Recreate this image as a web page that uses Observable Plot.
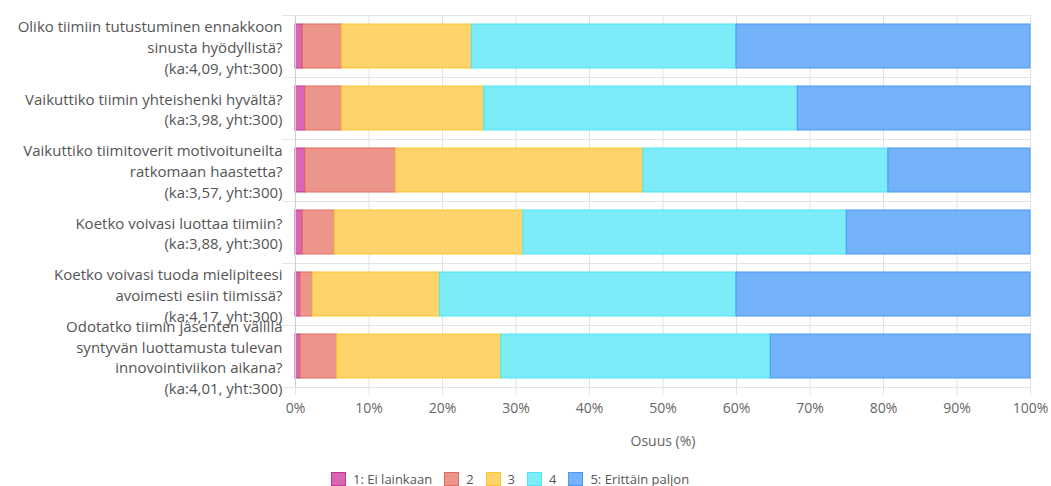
<!DOCTYPE html>
<html>
<head>
<meta charset="utf-8">
<script src="https://cdn.jsdelivr.net/npm/d3@7"></script>
<script src="https://cdn.jsdelivr.net/npm/@observablehq/plot@0.6"></script>
<style>
  html, body { margin: 0; padding: 0; background: #fff; }
  body { width: 1051px; height: 486px; overflow: hidden; font-family: "Open Sans", Lato, sans-serif; }
  #legend { display: flex; align-items: center; padding-left: 331px; margin-top: 14px; font-size: 13px; color: #555; line-height: 14px; height: 14px; }
  #legend .item { display: flex; align-items: center; margin-right: 12px; }
  #legend .sw { width: 15px; height: 14px; box-sizing: border-box; border: 1.5px solid; margin-right: 7px; }
</style>
</head>
<body>
<div id="chart"></div>
<div id="legend"></div>
<script>
// Survey questions (top to bottom)
const questions = [
  "Oliko tiimiin tutustuminen ennakkoon\nsinusta hyödyllistä?",
  "Vaikuttiko tiimin yhteishenki hyvältä?",
  "Vaikuttiko tiimitoverit motivoituneilta\nratkomaan haastetta?",
  "Koetko voivasi luottaa tiimiin?",
  "Koetko voivasi tuoda mielipiteesi\navoimesti esiin tiimissä?",
  "Odotatko tiimin jäsenten välillä\nsyntyvän luottamusta tulevan\ninnovointiviikon aikana?"
];
const means = ["4,09", "3,98", "3,57", "3,88", "4,17", "4,01"];
const totals = [300, 300, 300, 300, 300, 300];

// Answer scale
const levels = ["1: Ei lainkaan", "2", "3", "4", "5: Erittäin paljon"];

// Number of answers per level, one value per question
const level1 = [3, 4, 4, 3, 2, 2];
const level2 = [16, 15, 37, 13, 5, 15];
const level3 = [53, 58, 101, 77, 52, 67];
const level4 = [108, 128, 100, 132, 121, 110];
const level5 = [120, 95, 58, 75, 120, 106];

const fills = ["#d867b2", "#ec958a", "#fcd469", "#7cecf9", "#74b2fa"];
const strokes = ["#c8309a", "#e36a60", "#fbc530", "#4fe5f7", "#4a98f5"];

const counts = [level1, level2, level3, level4, level5];
const labels = questions.map((q, i) => `${q}\n(ka:${means[i]}, yht:${totals[i]})`);

const rows = [];
questions.forEach((q, i) => {
  levels.forEach((lv, j) => {
    rows.push({label: labels[i], level: j, share: counts[j][i] / totals[i] * 100});
  });
});

const width = 1051, height = 458;
const marginTop = 15, marginBottom = 71, marginLeft = 295, marginRight = 21;
const step = (height - marginTop - marginBottom) / labels.length;
const pad = 18 / 62;

const chart = Plot.plot({
  width, height, marginTop, marginBottom, marginLeft, marginRight,
  style: {fontFamily: "'Open Sans', Lato, sans-serif", fontSize: "14px", color: "#555", background: "#fff"},
  x: {domain: [0, 100]},
  y: {domain: labels, paddingInner: pad, paddingOuter: pad / 2},
  color: {type: "identity"},
  marks: [
    Plot.gridX({ticks: d3.range(0, 101, 10), stroke: "#e2e2e2", strokeOpacity: 1}),
    // row separators, extending a little left of the axis
    Plot.ruleY(labels, {y: d => d, x1: -1.7, x2: 100, dy: -step / 2, stroke: "#e4e4e4"}),
    Plot.ruleY(labels.slice(-1), {y: d => d, x1: -1.7, x2: 100, dy: step / 2, stroke: "#e4e4e4"}),
    Plot.barX(rows, Plot.stackX({
      x: "share", y: "label",
      fill: d => fills[d.level], stroke: d => strokes[d.level], strokeWidth: 1
    })),
    Plot.ruleX([0], {stroke: "#cfcfcf"}),
    Plot.axisX({
      ticks: d3.range(0, 101, 10), tickFormat: d => d + "%", tickSize: 8, stroke: "#e2e2e2",
      tickPadding: 8, fontSize: 14, fill: "#666",
      label: "Osuus (%)", labelAnchor: "center", labelArrow: "none", labelOffset: 58
    }),
    Plot.axisY({tickSize: 0, tickPadding: 13, fontSize: 15, fill: "#555", lineHeight: 1.38, label: null})
  ]
});
document.getElementById("chart").appendChild(chart);

// Legend
const legend = document.getElementById("legend");
levels.forEach((lv, j) => {
  const item = document.createElement("div");
  item.className = "item";
  const sw = document.createElement("span");
  sw.className = "sw";
  sw.style.background = fills[j];
  sw.style.borderColor = strokes[j];
  const t = document.createElement("span");
  t.textContent = lv;
  item.appendChild(sw);
  item.appendChild(t);
  legend.appendChild(item);
});
</script>
</body>
</html>
